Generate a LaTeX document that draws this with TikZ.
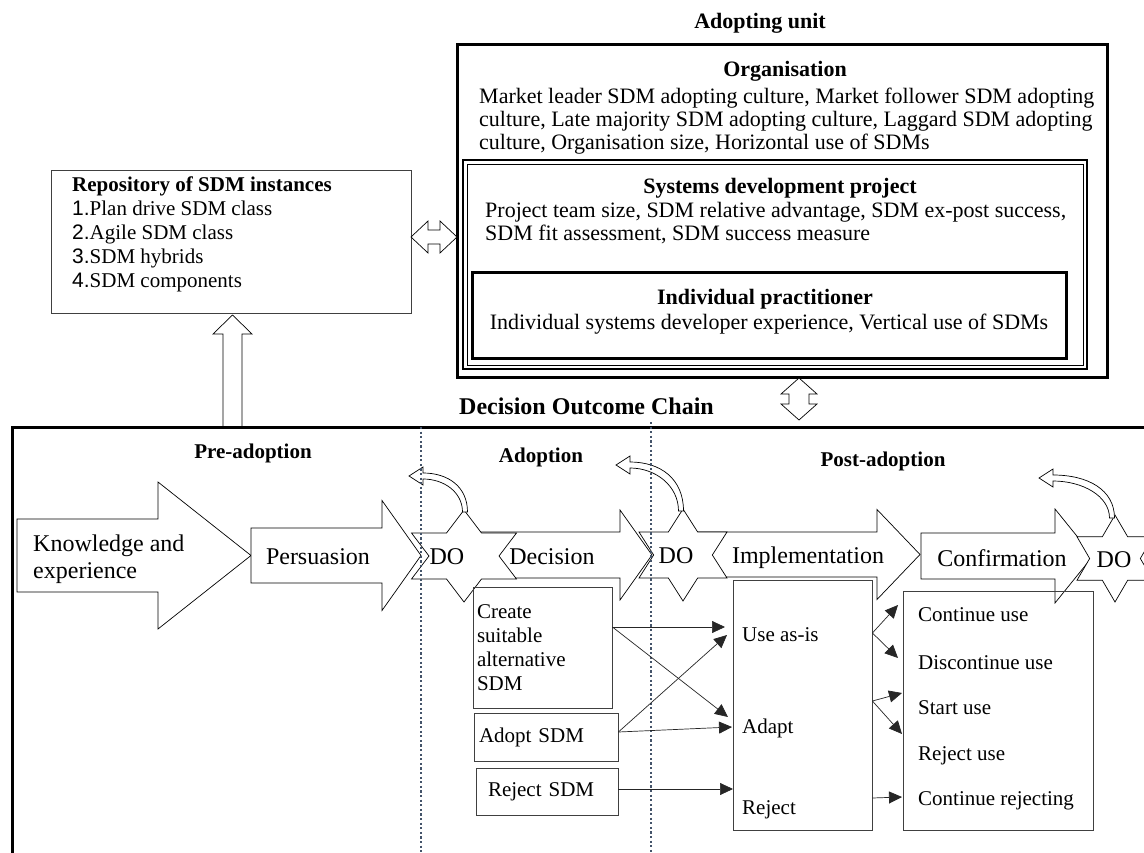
\documentclass[tikz,border=0pt]{standalone}
\usepackage{fontspec}
\setmainfont{Liberation Serif}
\newfontfamily\arialnum{Liberation Sans}
\usetikzlibrary{arrows.meta}
\definecolor{slate}{RGB}{68,84,106}
\tikzset{box/.style={draw=black!75,line width=.8pt},frame/.style={draw,line width=3pt},
blk/.style={draw,fill=white,line width=.7pt},conn/.style={draw=black!85,line width=.7pt,-{Triangle[length=13pt,width=12pt]}},
dotline/.style={draw=slate,line width=2.4pt,dash pattern=on 2.2pt off 2.4pt},
body/.style={font=\fontsize{22}{23}\selectfont,inner sep=0pt},ttl/.style={font=\bfseries\fontsize{22}{23}\selectfont,inner sep=0pt},
proc/.style={font=\fontsize{24}{27}\selectfont,inner sep=0pt},itm/.style={font=\fontsize{21}{24}\selectfont,inner sep=0pt},
phase/.style={font=\bfseries\fontsize{21}{24}\selectfont,inner sep=0pt}}
\begin{document}
\begin{tikzpicture}[x=1pt,y=-1pt]
\useasboundingbox(0,0)rectangle(1144,853);\fill[white](0,0)rectangle(1144,853);
\node[ttl](unitttl)at(760,23.5){Adopting unit};
\node[frame,minimum width=650pt,minimum height=332pt](unit)at(782,211){};
\node[draw,line width=2.5pt,minimum width=624pt,minimum height=209pt](sdp)at(775,264.5){};
\draw[line width=.8pt](467,164)rectangle(1083,365);
\node[frame,minimum width=594pt,minimum height=85pt](indiv)at(769,315.5){};
\node[ttl](orgttl)at(785,71){Organisation};
\node[body,align=left,anchor=west](orgtxt)at(479,121){Market leader SDM adopting culture, Market follower SDM adopting\\culture, Late majority SDM adopting culture, Laggard SDM adopting\\culture, Organisation size, Horizontal use of SDMs};
\node[ttl](sdpttl)at(780,188){Systems development project};
\node[body,align=left,anchor=west](sdptxt)at(485,223){Project team size, SDM relative advantage, SDM ex-post success,\\SDM fit assessment, SDM success measure};
\node[ttl](indttl)at(765,299){Individual practitioner};
\node[body](indtxt)at(769,324){Individual systems developer experience, Vertical use of SDMs};
\node[box,minimum width=360pt,minimum height=143pt](repo)at(231,241.5){};
\node[itm,align=left,anchor=west](repotxt)at(72,234){\textbf{Repository of SDM instances}\\{\arialnum 1.}Plan drive SDM class\\{\arialnum 2.}Agile SDM class\\{\arialnum 3.}SDM hybrids\\{\arialnum 4.}SDM components};
\draw[blk](411,237)--(428,221)--(428,230)--(440,230)--(440,221)--(457,237)--(440,253)--(440,244)--(428,244)--(428,253)--cycle;
\draw[blk](799,378)--(817,394)--(809,394)--(809,404)--(817,404)--(799,420)--(781,404)--(789,404)--(789,394)--(781,394)--cycle;
\draw[blk](223,427)--(223,334)--(213,334)--(232.5,315)--(252,334)--(242,334)--(242,427);
\node[font=\bfseries\fontsize{24}{26}\selectfont](chain)at(586.5,406){Decision Outcome Chain};
\draw[frame](1160,427)--(12,427)--(12,870);
\node[phase](pre)at(253,453){Pre-adoption};\node[phase](adop)at(541,457){Adoption};\node[phase](post)at(883,461){Post-adoption};
\foreach\xa/\xb/\xc/\cy/\s/\h in{17/158/251/555.5/36.5/73.5,251/382/421/555.5/27.5/55,464/620/652/555/23/45,683/877/920/554.5/22.5/45,921/1055/1093/556/23/47}
\draw[blk](\xa,\cy-\s)--(\xb,\cy-\s)--(\xb,\cy-\h)--(\xc,\cy)--(\xb,\cy+\h)--(\xb,\cy+\s)--(\xa,\cy+\s)--cycle;
\foreach\cx/\cy/\a/\b in{464/556/52.5/46,683/555/44/46,1115/558.5/38/43.5}
\draw[blk](\cx,\cy-\b)--(\cx+\a/3,\cy-\b/2)--(\cx+\a,\cy-\b/2)--(\cx+2*\a/3,\cy)--(\cx+\a,\cy+\b/2)--(\cx+\a/3,\cy+\b/2)--(\cx,\cy+\b)--(\cx-\a/3,\cy+\b/2)--(\cx-\a,\cy+\b/2)--(\cx-2*\a/3,\cy)--(\cx-\a,\cy-\b/2)--(\cx-\a/3,\cy-\b/2)--cycle;
\foreach\bx/\by/\hx/\hy in{465/512/423/476,681/511/630/465,1112/518/1053/478}
\draw[blk]({\hx},{\hy-3})..controls({\hx+0.6*(\bx-\hx)},{\hy-3})and({\bx+2.5},{\hy+0.3*(\by-\hy)})..({\bx+2.5},{\by})--({\bx-2.5},{\by})..controls({\bx-2.5},{\hy+0.45*(\by-\hy)})and({\hx+0.5*(\bx-\hx)},{\hy+3})..({\hx},{\hy+3})--({\hx},{\hy+9})--({\hx-14},{\hy})--({\hx},{\hy-9})--cycle;
\node[proc,align=left,anchor=west](know)at(33,559){Knowledge and\\experience};
\node[proc](pers)at(318,557){Persuasion};\node[proc](dec)at(552,557){Decision};
\node[proc](impl)at(808,558){Implementation};\node[proc](conf)at(1002,558){Confirmation};
\node[proc](do1)at(447,557){DO};\node[proc](do2)at(676,556){DO};\node[proc](do3)at(1114,560){DO};
\node[box,itm,text width=131pt,minimum height=121pt,inner sep=4pt,align=left](create)at(542.5,647.5){Create\\suitable\\alternative\\SDM};
\node[box,itm,text width=134pt,minimum height=48pt,inner xsep=5pt,align=left](adopt)at(546,737){Adopt SDM};
\node[box,itm,text width=118pt,minimum height=47pt,inner xsep=12pt,align=left](rejsdm)at(547,791.5){Reject SDM};
\node[box,minimum width=139pt,minimum height=250pt](implbox)at(802.5,705){};
\node[box,minimum width=190pt,minimum height=239pt](confbox)at(998,710.5){};
\node[itm,anchor=west](useasis)at(742,635){Use as-is};\node[itm,anchor=west](adapt)at(742,728){Adapt};\node[itm,anchor=west](reject)at(742,810){Reject};
\node[itm,anchor=west](contuse)at(918,615){Continue use};\node[itm,anchor=west](discuse)at(918,663){Discontinue use};
\node[itm,anchor=west](startuse)at(918,708){Start use};\node[itm,anchor=west](rejuse)at(918,756){Reject use};
\node[itm,anchor=west](contrej)at(918,801){Continue rejecting};
\draw[dotline](421,427)--(421,853);\draw[dotline](651,422)--(651,853);
\coordinate(tu1)at(725,627);\coordinate(tu2)at(727,635);\coordinate(ta1)at(728,717);\coordinate(ta2)at(732,727);\coordinate(tr)at(733,789);
\coordinate(tc)at(898,605);\coordinate(td)at(898,658);\coordinate(ts)at(902,693);\coordinate(tj)at(902,734);\coordinate(tk)at(902,797);
\draw[conn]([yshift=20.5pt]create.east)--(tu1);\draw[conn]([yshift=20.5pt]create.east)--(ta1);
\draw[conn]([yshift=5pt]adopt.east)--(tu2);\draw[conn]([yshift=5pt]adopt.east)--(ta2);\draw[conn]([yshift=2.5pt]rejsdm.east)--(tr);
\draw[conn]([yshift=72pt]implbox.east)--(tc);\draw[conn]([yshift=72pt]implbox.east)--(td);
\draw[conn]([yshift=4pt]implbox.east)--(ts);\draw[conn]([yshift=4pt]implbox.east)--(tj);\draw[conn]([yshift=-93pt]implbox.east)--(tk);
\end{tikzpicture}
\end{document}
